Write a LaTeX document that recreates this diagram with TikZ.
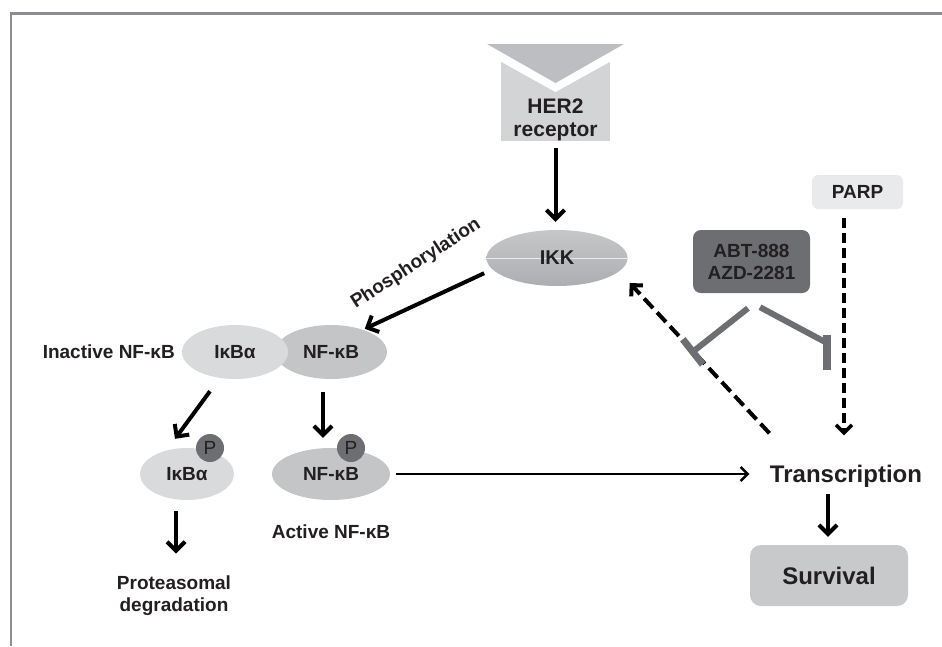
\documentclass[tikz,border=0pt]{standalone}
\usepackage{fontspec}
\setmainfont{Liberation Sans}
\usetikzlibrary{positioning,arrows.meta,shapes.geometric}

\definecolor{ink}{HTML}{231F20}
\definecolor{framegray}{HTML}{8C8D90}
\definecolor{tricolor}{HTML}{BDBEC1}
\definecolor{receptorfill}{HTML}{D3D4D6}
\definecolor{lightfill}{HTML}{D9DADC}
\definecolor{midfill}{HTML}{C4C5C7}
\definecolor{darkfill}{HTML}{6D6E71}
\definecolor{parpfill}{HTML}{E9EAEB}
\definecolor{survfill}{HTML}{C8C9CB}
\definecolor{ikktop}{HTML}{C6C7C9}
\definecolor{ikkbottom}{HTML}{ADAEB1}

\begin{document}
\begin{tikzpicture}[x=1pt, y=-1pt, text=ink, font=\fontsize{19}{22}\selectfont\bfseries]
    % Styles
    \tikzstyle{blob} = [ellipse, inner sep=0pt, minimum height=54pt]
    \tikzstyle{lightblob} = [blob, fill=lightfill]
    \tikzstyle{midblob} = [blob, fill=midfill]
    \tikzstyle{phos} = [circle, fill=darkfill, minimum size=28pt, inner sep=0pt, font=\fontsize{19}{22}\selectfont\mdseries]
    \tikzstyle{roundbox} = [rectangle, rounded corners=8pt, align=center]
    \tikzstyle{big} = [font=\fontsize{24}{26}\selectfont\bfseries]
    \tikzstyle{arrow} = [line width=4pt, -{Straight Barb[length=9pt,width=18pt]}]
    \tikzstyle{thinarrow} = [line width=2.6pt, -{Straight Barb[length=7pt,width=14pt]}]
    \tikzstyle{dasharrow} = [line width=3.4pt, dash pattern=on 10pt off 5pt, -{Straight Barb[length=8pt,width=16pt]}]
    \tikzstyle{inhibit} = [darkfill, line width=6pt]

    \useasboundingbox (0,0) rectangle (942,646);

    % Frame
    \draw [framegray, line width=2.4pt] (11,646) -- (11,13.5) -- (942,13.5);

    % Receptor
    \node (her2) [rectangle, fill=receptorfill, minimum width=109pt, minimum height=81pt] at (555.5,100.5) {};
    \fill [white] (478,49) -- (633,49) -- (555.5,92) -- cycle;
    \fill [tricolor] (487,44) -- (624,44) -- (555.5,83) -- cycle;
    \node (her2txt) [align=center, font=\fontsize{21}{23}\selectfont\bfseries] at (555.5,120) {HER2\\receptor};

    % Nodes
    \node (ikk) [blob, minimum width=141pt, minimum height=56pt, top color=ikktop, bottom color=ikkbottom] at (557,258) {};
    \draw [white!60!ikktop, line width=0.7pt] (ikk.west) -- (ikk.east);
    \node (ikktxt) [font=\fontsize{20}{22}\selectfont\bfseries] at (ikk.center) {IKK};
    \node (phlabel) [rotate=33] at (416,264) {Phosphorylation};

    \node (nfkb) [midblob, minimum width=112pt] at (331,352) {NF-κB};
    \node (ikba) [lightblob, minimum width=106pt] at (235,352) {IκBα};
    \node (inactive) [left=3.5pt of ikba] {Inactive NF-κB};

    \node (ikba2) [lightblob, minimum width=94pt, minimum height=52pt] at (187,474) {IκBα};
    \node (nfkb2) [midblob, minimum width=118pt, minimum height=52pt] at (331,474) {NF-κB};
    \node (p1) [phos] at (210,448) {P};
    \node (p2) [phos] at (351,448) {P};
    \node (active) [below=21pt of nfkb2] {Active NF-κB};
    \node (degr) [align=center] at (174,596) {Proteasomal\\degradation};

    \node (drug) [roundbox, fill=darkfill, minimum width=117pt, minimum height=63pt] at (751.5,261.5) {ABT-888\\AZD-2281};
    \node (parp) [roundbox, rounded corners=6pt, fill=parpfill, minimum width=91pt, minimum height=34pt] at (857.5,192) {PARP};
    \node (trans) [big] at (846,476) {Transcription};
    \node (surv) [roundbox, big, rounded corners=11pt, fill=survfill, minimum width=158pt, minimum height=61pt] at (829,575.5) {Survival};

    \coordinate (inhL) at (690,354);
    \coordinate (inhR) at (827,343);

    % Arrows
    \draw [arrow, shorten <=7pt, shorten >=8pt] (her2.south) -- (her2.south |- ikk.north);
    \draw [arrow, shorten <=9pt, shorten >=2pt] (ikk.190) -- (nfkb.35);
    \draw [arrow] ([xshift=-25pt,yshift=-12pt]ikba.south) -- ([xshift=-12pt,yshift=9pt]ikba2.north);
    \draw [arrow] ([xshift=-8pt,yshift=-13pt]nfkb.south) -- ([xshift=-8pt,yshift=10pt]nfkb2.north);
    \draw [arrow] ([xshift=-11pt,yshift=-11pt]ikba2.south) -- ([xshift=2pt,yshift=19pt]degr.north);
    \draw [thinarrow, shorten <=6pt, shorten >=17pt] (nfkb2.east) -- (nfkb2.east -| trans.west);
    \draw [arrow, shorten <=3pt, shorten >=8pt] ([xshift=-18pt]trans.south) -- ([xshift=-18pt]trans.south |- surv.north);
    \draw [dasharrow, shorten <=9pt, shorten >=26pt] ([xshift=-13.5pt]parp.south) -- ([xshift=-13.5pt]parp.south |- trans.north);
    \draw [dasharrow, line width=4pt, dash pattern=on 13pt off 6pt] ([xshift=3pt,yshift=28pt]trans.north west) -- ([xshift=2pt,yshift=-25pt]ikk.east);

    % Inhibition
    \draw [inhibit, -{Bar[width=32pt,line width=7pt]}] ([xshift=-3.5pt,yshift=-15pt]drug.south) -- (inhL);
    \draw [inhibit] ([xshift=8.5pt,yshift=-14pt]drug.south) -- (inhR);
    \draw [darkfill, line width=8pt] ([yshift=8pt]inhR) -- ([yshift=-27pt]inhR);
\end{tikzpicture}
\end{document}
